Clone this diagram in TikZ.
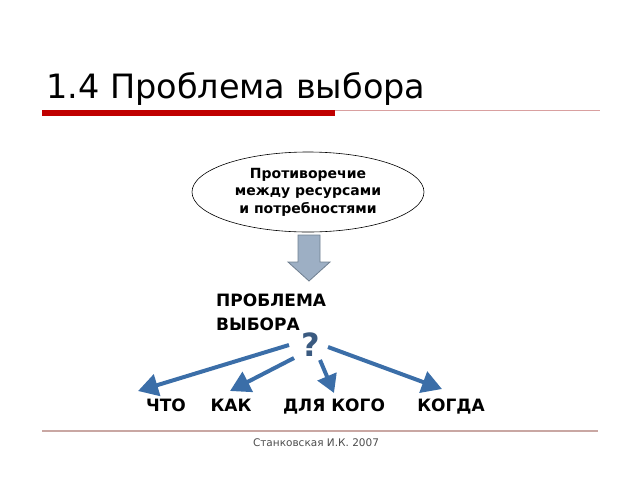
\documentclass[tikz,border=0pt]{standalone}
\usepackage{fontspec}
\setmainfont{DejaVu Sans}
\usetikzlibrary{arrows.meta,shapes.geometric}
\definecolor{redbar}{HTML}{C00000}
\definecolor{thinred}{HTML}{D9A0A0}
\definecolor{footline}{HTML}{C9A7A3}
\definecolor{arrowblue}{HTML}{3B6EA8}
\definecolor{qblue}{HTML}{3A5A80}
\definecolor{grayfill}{HTML}{9DAFC4}
\definecolor{grayedge}{HTML}{6F7F90}
\tikzset{
  lbl/.style={font=\fontsize{17}{19}\selectfont\bfseries, text=black, inner sep=0pt},
  barrow/.style={draw=arrowblue, line width=4pt, -{Triangle[length=20pt,width=22pt]}},
}
\begin{document}
\begin{tikzpicture}[x=1pt,y=-1pt]
\useasboundingbox (0,0) rectangle (640,480);
% title
\node[anchor=base west, inner sep=0pt, font=\fontsize{33.5}{36}\selectfont] (title) at (46,98) {1.4 Проблема выбора};
\draw[thinred, line width=1pt] (335,110) -- (600,110);
\fill[redbar] (42,110) rectangle (335,116);
% ellipse
\node[draw=black, line width=0.6pt, ellipse, minimum width=232pt, minimum height=80pt, inner sep=0pt,
      align=center, font=\fontsize{14}{17.5}\selectfont\bfseries] (ell) at (308,192)
  {Противоречие\\между ресурсами\\и потребностями};
% gray block arrow
\draw[grayedge, fill=grayfill, line width=0.8pt]
  (298,235) -- (320,235) -- (320,262) -- (330,262) -- (309,281) -- (288,262) -- (298,262) -- cycle;
% problem text
\node[lbl, anchor=north west, align=left, font=\fontsize{17}{24}\selectfont\bfseries] (prob) at (216,294) {ПРОБЛЕМА\\ВЫБОРА};
\node[inner sep=0pt, text=qblue, font=\fontsize{32}{34}\selectfont\bfseries] (q) at (311,345) {?};
% labels
\node[lbl, anchor=base] (l1) at (166,411) {ЧТО};
\node[lbl, anchor=base] (l2) at (231,411) {КАК};
\node[lbl, anchor=base] (l3) at (334,411) {ДЛЯ КОГО};
\node[lbl, anchor=base] (l4) at (451,411) {КОГДА};
% arrows
\coordinate (s1) at (289,345);
\coordinate (t1) at (138,391);
\coordinate (s2) at (294,358);
\coordinate (t2) at (230,391);
\coordinate (s3) at (320,360);
\coordinate (t3) at (334,393);
\coordinate (s4) at (328,347);
\coordinate (t4) at (442,389);
\draw[barrow] (s1) -- (t1);
\draw[barrow] (s2) -- (t2);
\draw[barrow, -{Triangle[length=18pt,width=20pt]}] (s3) -- (t3);
\draw[barrow] (s4) -- (t4);
% footer
\draw[footline, line width=1.5pt] (42,431) -- (598,431);
\node[inner sep=0pt, text=black!70, font=\fontsize{10.5}{12}\selectfont] (foot) at (316,443) {Станковская И.К. 2007};
\end{tikzpicture}
\end{document}
